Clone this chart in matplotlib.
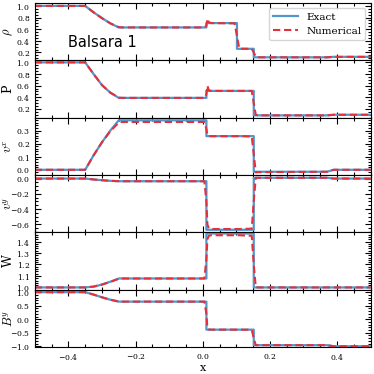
import matplotlib
matplotlib.use("Agg")
import matplotlib.pyplot as plt
from matplotlib.ticker import MultipleLocator, AutoMinorLocator

plt.rcParams["font.family"] = "serif"
plt.rcParams["mathtext.fontset"] = "cm"
plt.rcParams["axes.formatter.use_mathtext"] = True

# exact solution (shared x grid, doubled x = jump)
x_exact = [-0.5, -0.35, -0.325, -0.30, -0.275, -0.25, 0.011, 0.011, 0.102, 0.102, 0.152, 0.152, 0.37, 0.39, 0.5]
rho_exact = [1.0, 1.0, 0.89, 0.79, 0.70, 0.63, 0.63, 0.705, 0.705, 0.263, 0.263, 0.117, 0.117, 0.125, 0.125]
p_exact = [1.0, 1.0, 0.80, 0.61, 0.48, 0.39, 0.39, 0.51, 0.51, 0.51, 0.51, 0.09, 0.09, 0.10, 0.10]
vx_exact = [0.0, 0.0, 0.11, 0.21, 0.30, 0.378, 0.378, 0.257, 0.257, 0.257, 0.257, -0.015, -0.015, 0.0, 0.0]
vy_exact = [0.0, 0.0, -0.012, -0.022, -0.03, -0.035, -0.035, -0.67, -0.67, -0.67, -0.67, 0.01, 0.01, 0.0, 0.0]
w_exact = [1.0, 1.0, 1.007, 1.025, 1.05, 1.078, 1.078, 1.47, 1.47, 1.47, 1.47, 1.0, 1.0, 1.0, 1.0]
by_exact = [1.0, 1.0, 0.91, 0.81, 0.72, 0.65, 0.65, -0.386, -0.386, -0.386, -0.386, -0.96, -0.96, -1.0, -1.0]

# numerical solution
x_num = [-0.5, -0.35, -0.325, -0.30, -0.275, -0.25, -0.24, 0.005, 0.011, 0.014, 0.018, 0.025,
         0.095, 0.102, 0.109, 0.146, 0.152, 0.158, 0.165, 0.37, 0.39, 0.5]
rho_num = [1.0, 1.0, 0.89, 0.79, 0.70, 0.635, 0.63, 0.63, 0.66, 0.78, 0.72, 0.705,
           0.70, 0.48, 0.265, 0.263, 0.20, 0.125, 0.117, 0.117, 0.125, 0.125]
p_num = [1.0, 1.0, 0.80, 0.61, 0.48, 0.395, 0.39, 0.39, 0.45, 0.60, 0.52, 0.51,
         0.51, 0.51, 0.51, 0.51, 0.30, 0.10, 0.09, 0.09, 0.10, 0.10]
vx_num = [0.0, 0.0, 0.11, 0.21, 0.295, 0.36, 0.365, 0.365, 0.31, 0.265, 0.258, 0.257,
          0.257, 0.257, 0.257, 0.255, 0.12, -0.02, -0.018, -0.015, 0.0, 0.0]
vy_num = [0.0, 0.0, -0.012, -0.022, -0.03, -0.034, -0.035, -0.035, -0.30, -0.60, -0.65, -0.66,
          -0.66, -0.66, -0.66, -0.655, -0.30, 0.01, 0.01, 0.01, 0.0, 0.0]
w_num = [1.0, 1.0, 1.007, 1.025, 1.048, 1.075, 1.078, 1.078, 1.25, 1.42, 1.45, 1.455,
         1.455, 1.455, 1.455, 1.45, 1.2, 1.002, 1.0, 1.0, 1.0, 1.0]
by_num = [1.0, 1.0, 0.91, 0.81, 0.72, 0.655, 0.65, 0.65, 0.2, -0.33, -0.38, -0.386,
          -0.386, -0.386, -0.386, -0.39, -0.7, -0.96, -0.96, -0.96, -1.0, -1.0]

labels = [r"$\rho$", "P", r"$v^x$", r"$v^y$", "W", r"$B^y$"]
exact = [rho_exact, p_exact, vx_exact, vy_exact, w_exact, by_exact]
numer = [rho_num, p_num, vx_num, vy_num, w_num, by_num]
ylims = [(0.065, 1.05), (0.05, 1.035), (-0.04, 0.398), (-0.704, 0.046), (0.98, 1.48), (-1.03, 1.09)]
ysteps = [0.2, 0.2, 0.1, 0.2, 0.1, 0.5]

fig, axes = plt.subplots(6, 1, figsize=(3.74, 3.74), dpi=100, sharex=True)
fig.subplots_adjust(left=0.093, right=0.991, top=0.992, bottom=0.072, hspace=0)

for i, ax in enumerate(axes):
    ax.plot(x_exact, exact[i], color="#5296cc", lw=1.6, label="Exact")
    ax.plot(x_num, numer[i], color="#e3313c", lw=1.5, ls="--", dashes=(3.5, 1.8), label="Numerical")
    ax.set_xlim(-0.5, 0.5)
    ax.set_ylim(*ylims[i])
    ax.yaxis.set_major_locator(MultipleLocator(ysteps[i]))
    ax.yaxis.set_minor_locator(AutoMinorLocator())
    ax.xaxis.set_major_locator(MultipleLocator(0.2))
    ax.xaxis.set_minor_locator(MultipleLocator(0.05))
    ax.tick_params(which="both", direction="in", top=True, right=True, labelsize=5.5, width=0.8)
    ax.tick_params(which="major", length=4)
    ax.tick_params(which="minor", length=2)
    ax.set_ylabel(labels[i], fontsize=9)
    ax.yaxis.set_label_coords(-0.06, 0.5)

axes[0].text(0.1, 0.24, "Balsara 1", transform=axes[0].transAxes, fontsize=10.5, family="DejaVu Sans")
axes[0].legend(loc="upper right", fontsize=7.5, handlelength=2.4, borderpad=0.4, labelspacing=0.45)
axes[-1].set_xlabel("x", fontsize=8, labelpad=1)

plt.savefig("out.png", dpi=100)
